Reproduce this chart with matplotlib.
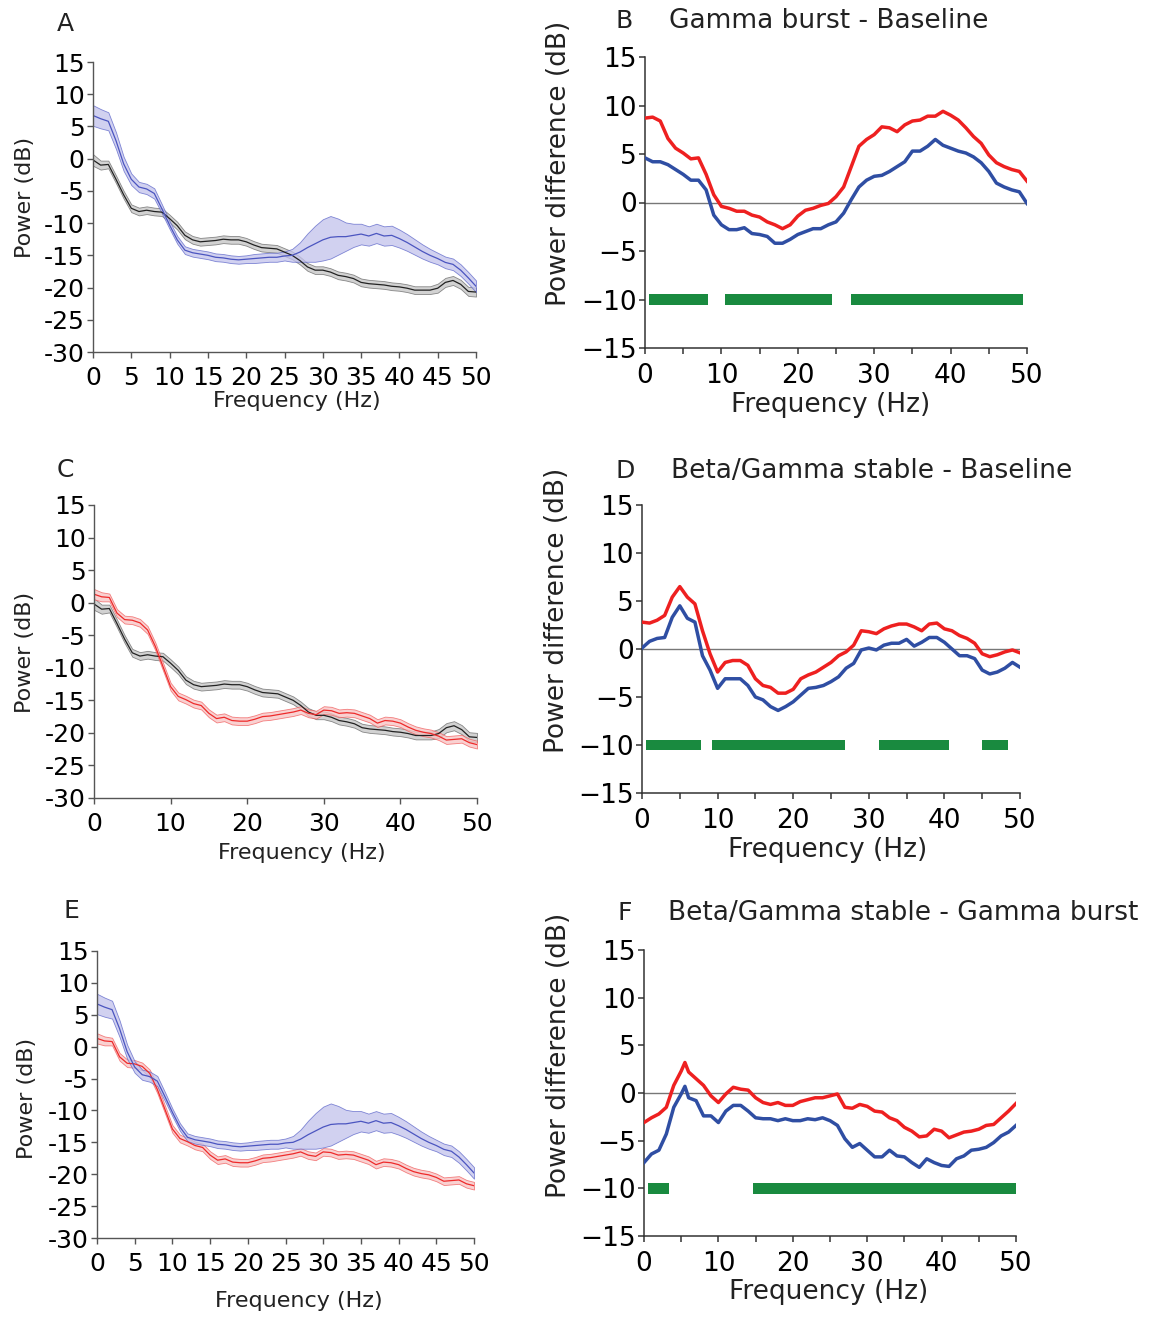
import numpy as np
import matplotlib
matplotlib.use("Agg")
from matplotlib import pyplot as plt
from matplotlib.ticker import MultipleLocator

plt.rcParams['font.family'] = ['DejaVu Sans']

W, H = 1154, 1317

freq = list(range(51))
freq_f = list(range(6)) + [5.5] + list(range(6, 51))

# power spectra (dB): baseline (black), gamma burst (blue), beta/gamma stable (red)
base_mean = [-0.2, -1.0, -0.9, -3.2, -5.6, -7.7, -8.2, -8.0, -8.2, -8.3,
             -9.3, -10.4, -11.9, -12.6, -12.9, -12.8, -12.7, -12.5, -12.6, -12.6,
             -12.9, -13.4, -13.8, -13.9, -14.0, -14.5, -15.0, -15.8, -16.8, -17.3,
             -17.3, -17.6, -18.1, -18.3, -18.6, -19.2, -19.4, -19.5, -19.6, -19.8,
             -19.9, -20.1, -20.4, -20.4, -20.4, -20.1, -19.2, -18.9, -19.5, -20.6,
             -20.7]
base_sem = [0.9, 0.7, 0.6, 0.6, 0.6, 0.6, 0.6, 0.6, 0.6, 0.6,
            0.6, 0.6, 0.6, 0.6, 0.6, 0.6, 0.6, 0.6, 0.6, 0.6,
            0.6, 0.6, 0.6, 0.6, 0.6, 0.6, 0.6, 0.6, 0.6, 0.6,
            0.6, 0.6, 0.6, 0.6, 0.6, 0.6, 0.6, 0.6, 0.6, 0.6,
            0.6, 0.6, 0.6, 0.6, 0.6, 0.7, 0.7, 0.7, 0.7, 0.7,
            0.7]

burst_mean = [6.7, 6.2, 5.8, 2.8, -0.8, -3.2, -4.4, -4.7, -5.4, -7.8,
              -10.3, -12.6, -14.2, -14.6, -14.8, -15.0, -15.3, -15.4, -15.6, -15.7,
              -15.6, -15.5, -15.4, -15.3, -15.3, -15.1, -15.0, -14.5, -13.8, -13.2,
              -12.6, -12.2, -12.1, -12.1, -11.9, -11.7, -12.0, -11.6, -12.0, -11.9,
              -12.4, -13.0, -13.7, -14.4, -15.0, -15.5, -16.1, -16.4, -17.3, -18.5,
              -19.8]
burst_sem = [1.6, 1.5, 1.4, 1.3, 1.1, 0.9, 0.8, 0.8, 0.8, 0.7,
             0.6, 0.6, 0.6, 0.6, 0.6, 0.6, 0.6, 0.6, 0.6, 0.6,
             0.6, 0.7, 0.7, 0.7, 0.7, 0.7, 1.0, 1.5, 2.2, 2.8,
             3.2, 3.3, 2.8, 2.2, 1.8, 1.6, 1.5, 1.5, 1.5, 1.5,
             1.4, 1.3, 1.2, 1.1, 1.0, 0.9, 0.9, 0.9, 0.9, 0.9,
             0.9]

stable_mean = [1.3, 0.9, 0.8, -1.6, -2.6, -2.7, -3.1, -4.2, -6.7, -9.8,
               -12.9, -14.4, -14.9, -15.5, -15.8, -17.0, -17.8, -17.6, -18.1, -18.2,
               -18.2, -17.9, -17.5, -17.4, -17.2, -17.0, -16.8, -16.5, -17.0, -17.2,
               -16.5, -16.6, -17.0, -16.9, -17.0, -17.4, -17.8, -18.5, -18.1, -18.2,
               -18.5, -19.1, -19.6, -19.9, -20.1, -20.5, -21.1, -21.0, -20.9, -21.5,
               -21.8]
stable_sem = [0.8, 0.7, 0.6, 0.6, 0.6, 0.6, 0.6, 0.6, 0.6, 0.6,
              0.6, 0.6, 0.6, 0.6, 0.6, 0.6, 0.6, 0.6, 0.6, 0.6,
              0.6, 0.6, 0.6, 0.6, 0.6, 0.6, 0.6, 0.6, 0.6, 0.6,
              0.6, 0.6, 0.6, 0.6, 0.6, 0.6, 0.6, 0.6, 0.6, 0.6,
              0.6, 0.6, 0.6, 0.6, 0.6, 0.6, 0.6, 0.6, 0.6, 0.6,
              0.6]

# power differences (dB)
b_red = [8.7, 8.8, 8.4, 6.6, 5.6, 5.1, 4.5, 4.6, 2.9, 0.8,
         -0.4, -0.6, -0.9, -0.9, -1.3, -1.5, -2.0, -2.3, -2.7, -2.3,
         -1.4, -0.8, -0.6, -0.3, -0.1, 0.6, 1.6, 3.7, 5.8, 6.5,
         7.0, 7.8, 7.7, 7.3, 8.0, 8.4, 8.5, 8.9, 8.9, 9.4,
         9.0, 8.5, 7.7, 6.8, 6.1, 4.9, 4.1, 3.7, 3.4, 3.2,
         2.2]
b_blue = [4.6, 4.2, 4.2, 3.9, 3.4, 2.9, 2.3, 2.3, 1.3, -1.3,
          -2.3, -2.8, -2.8, -2.6, -3.2, -3.3, -3.5, -4.2, -4.2, -3.8,
          -3.3, -3.0, -2.7, -2.7, -2.3, -2.0, -1.1, 0.3, 1.6, 2.3,
          2.7, 2.8, 3.2, 3.7, 4.2, 5.3, 5.3, 5.8, 6.5, 5.9,
          5.6, 5.3, 5.1, 4.7, 4.1, 3.2, 2.0, 1.6, 1.3, 1.1,
          -0.1]
b_sig = [(0.5, 8.3), (10.5, 24.5), (27.0, 49.5)]

d_red = [2.8, 2.7, 3.0, 3.5, 5.4, 6.5, 5.4, 4.7, 1.9, -0.5,
         -2.4, -1.4, -1.2, -1.2, -1.7, -3.1, -3.8, -4.0, -4.6, -4.6,
         -4.2, -3.1, -2.7, -2.4, -1.9, -1.4, -0.7, -0.3, 0.4, 1.9,
         1.8, 1.6, 2.1, 2.4, 2.6, 2.6, 2.3, 1.9, 2.6, 2.7,
         2.1, 1.9, 1.4, 1.1, 0.6, -0.5, -0.8, -0.6, -0.3, -0.1,
         -0.4]
d_blue = [0.1, 0.8, 1.1, 1.2, 3.3, 4.5, 3.2, 2.8, -0.7, -2.2,
          -4.1, -3.1, -3.1, -3.1, -3.8, -5.0, -5.3, -6.0, -6.4, -6.0,
          -5.5, -4.8, -4.1, -4.0, -3.8, -3.4, -2.9, -2.0, -1.5, -0.1,
          0.1, -0.1, 0.4, 0.6, 0.6, 1.0, 0.3, 0.7, 1.2, 1.2,
          0.7, 0.0, -0.7, -0.7, -1.0, -2.2, -2.6, -2.4, -2.0, -1.4,
          -1.9]
d_sig = [(0.5, 7.8), (9.3, 26.9), (31.3, 40.6), (45.0, 48.4)]

f_red = [-3.1, -2.6, -2.2, -1.5, 0.8, 2.3, 3.2, 2.2, 1.5, 0.8, -0.3,
         -1.0, -0.1, 0.6, 0.4, 0.3, -0.5, -1.0, -1.2, -1.0, -1.3,
         -1.3, -0.9, -0.7, -0.5, -0.5, -0.3, -0.1, -1.5, -1.6, -1.2,
         -1.4, -1.9, -2.0, -2.6, -2.9, -3.6, -4.0, -4.6, -4.5, -3.8,
         -4.0, -4.7, -4.4, -4.1, -4.0, -3.8, -3.4, -3.3, -2.6, -1.9,
         -1.1]
f_blue = [-7.3, -6.4, -6.0, -4.3, -1.5, -0.1, 0.7, -0.5, -0.8, -2.4, -2.4,
          -3.1, -1.9, -1.3, -1.3, -1.9, -2.6, -2.7, -2.7, -2.9, -2.7,
          -2.9, -2.9, -2.7, -2.8, -2.6, -2.9, -3.4, -4.8, -5.7, -5.3,
          -6.0, -6.7, -6.7, -6.0, -6.6, -6.7, -7.3, -7.8, -6.9, -7.3,
          -7.6, -7.7, -6.9, -6.6, -6.0, -5.9, -5.7, -5.2, -4.5, -4.1,
          -3.4]
f_sig = [(0.5, 3.4), (14.7, 50.0)]

BLACK = ('#222222', '#c4c4c4', '#666666')
BLUE = ('#4b55c0', '#c2c2ec', '#5a63c8')
RED = ('#ee2a2a', '#f8c2c2', '#f05a5a')

fig = plt.figure(figsize=(W / 100, H / 100), dpi=100)


def rect(x0, y0, x1, y1):
    return [x0 / W, 1 - y1 / H, (x1 - x0) / W, (y1 - y0) / H]


def spec_panel(r, curves, xstep, ylab_xy, xlab_xy):
    ax = fig.add_axes(r)
    for mean, sem, cols in curves:
        m = np.array(mean)
        s = np.array(sem)
        ax.fill_between(freq, m - s, m + s, facecolor=cols[1], edgecolor=cols[2],
                        linewidth=0.6, alpha=0.75)
        ax.plot(freq, m, color=cols[0], lw=0.9)
    ax.set_xlim(0, 50)
    ax.set_ylim(-30, 15)
    ax.set_xticks(range(0, 51, xstep))
    yt = list(range(-30, 16, 5))
    ax.set_yticks(yt)
    ax.set_yticklabels([str(t) for t in yt])
    for s in ['top', 'right']:
        ax.spines[s].set_visible(False)
    for s in ['left', 'bottom']:
        ax.spines[s].set_color('#555555')
        ax.spines[s].set_linewidth(1.0)
    ax.tick_params(direction='out', length=4, width=1, color='#555555',
                   labelsize=18, pad=2)
    ax.tick_params(axis='x', pad=6)
    ax.set_ylabel('Power (dB)', fontsize=16, color='#222222')
    ax.yaxis.set_label_coords(*ylab_xy)
    ax.set_xlabel('Frequency (Hz)', fontsize=16, color='#222222', va='top')
    ax.xaxis.set_label_coords(*xlab_xy)
    return ax


def diff_panel(r, fx, red, blue, sig, ylab_xy, xlab_xy):
    ax = fig.add_axes(r)
    ax.axhline(0, color='#777777', lw=1.0, zorder=1)
    ax.plot(fx, red, color='#ee2020', lw=2.5, zorder=3)
    ax.plot(fx, blue, color='#2f4ea3', lw=2.5, zorder=3)
    for a, b in sig:
        ax.barh(-10, b - a, left=a, height=1.1, color='#198a3f', zorder=2)
    ax.set_xlim(0, 50)
    ax.set_ylim(-15, 15)
    ax.xaxis.set_major_locator(MultipleLocator(10))
    ax.xaxis.set_minor_locator(MultipleLocator(5))
    ax.yaxis.set_major_locator(MultipleLocator(5))
    for s in ['top', 'right']:
        ax.spines[s].set_visible(False)
    for s in ['left', 'bottom']:
        ax.spines[s].set_color('#333333')
        ax.spines[s].set_linewidth(1.1)
    ax.tick_params(which='both', direction='out', length=4, width=1.1,
                   color='#333333', labelsize=19, pad=2)
    ax.tick_params(axis='x', pad=7)
    ax.set_ylabel('Power difference (dB)', fontsize=19, color='#222222')
    ax.yaxis.set_label_coords(*ylab_xy)
    ax.set_xlabel('Frequency (Hz)', fontsize=19, color='#222222', va='top')
    ax.xaxis.set_label_coords(*xlab_xy)
    return ax


spec_panel(rect(93, 62, 476, 352),
           [(base_mean, base_sem, BLACK), (burst_mean, burst_sem, BLUE)],
           5, (-0.151, 0.534), (0.533, -0.135))
spec_panel(rect(94, 505, 477, 798),
           [(base_mean, base_sem, BLACK), (stable_mean, stable_sem, RED)],
           10, (-0.154, 0.498), (0.543, -0.152))
spec_panel(rect(97, 951, 474, 1238),
           [(stable_mean, stable_sem, RED), (burst_mean, burst_sem, BLUE)],
           5, (-0.159, 0.488), (0.536, -0.185))

diff_panel(rect(645, 57, 1027, 348), freq, b_red, b_blue, b_sig,
           (-0.191, 0.636), (0.487, -0.152))
diff_panel(rect(642, 505, 1020, 793), freq, d_red, d_blue, d_sig,
           (-0.191, 0.635), (0.492, -0.152))
diff_panel(rect(644, 950, 1016, 1236), freq_f, f_red, f_blue, f_sig,
           (-0.193, 0.633), (0.495, -0.152))

# panel letters and titles
letters = [('A', 57, 31), ('B', 616, 28), ('C', 57, 477),
           ('D', 616, 478), ('E', 63, 918), ('F', 618, 920)]
for txt, x, y in letters:
    fig.text(x / W, 1 - y / H, txt, fontsize=18, color='#222222', va='baseline')

titles = [('Gamma burst - Baseline', 669, 28),
          ('Beta/Gamma stable - Baseline', 671, 478),
          ('Beta/Gamma stable - Gamma burst', 668, 920)]
for txt, x, y in titles:
    fig.text(x / W, 1 - y / H, txt, fontsize=19, color='#222222', va='baseline')

fig.savefig('out.png', dpi=100)
